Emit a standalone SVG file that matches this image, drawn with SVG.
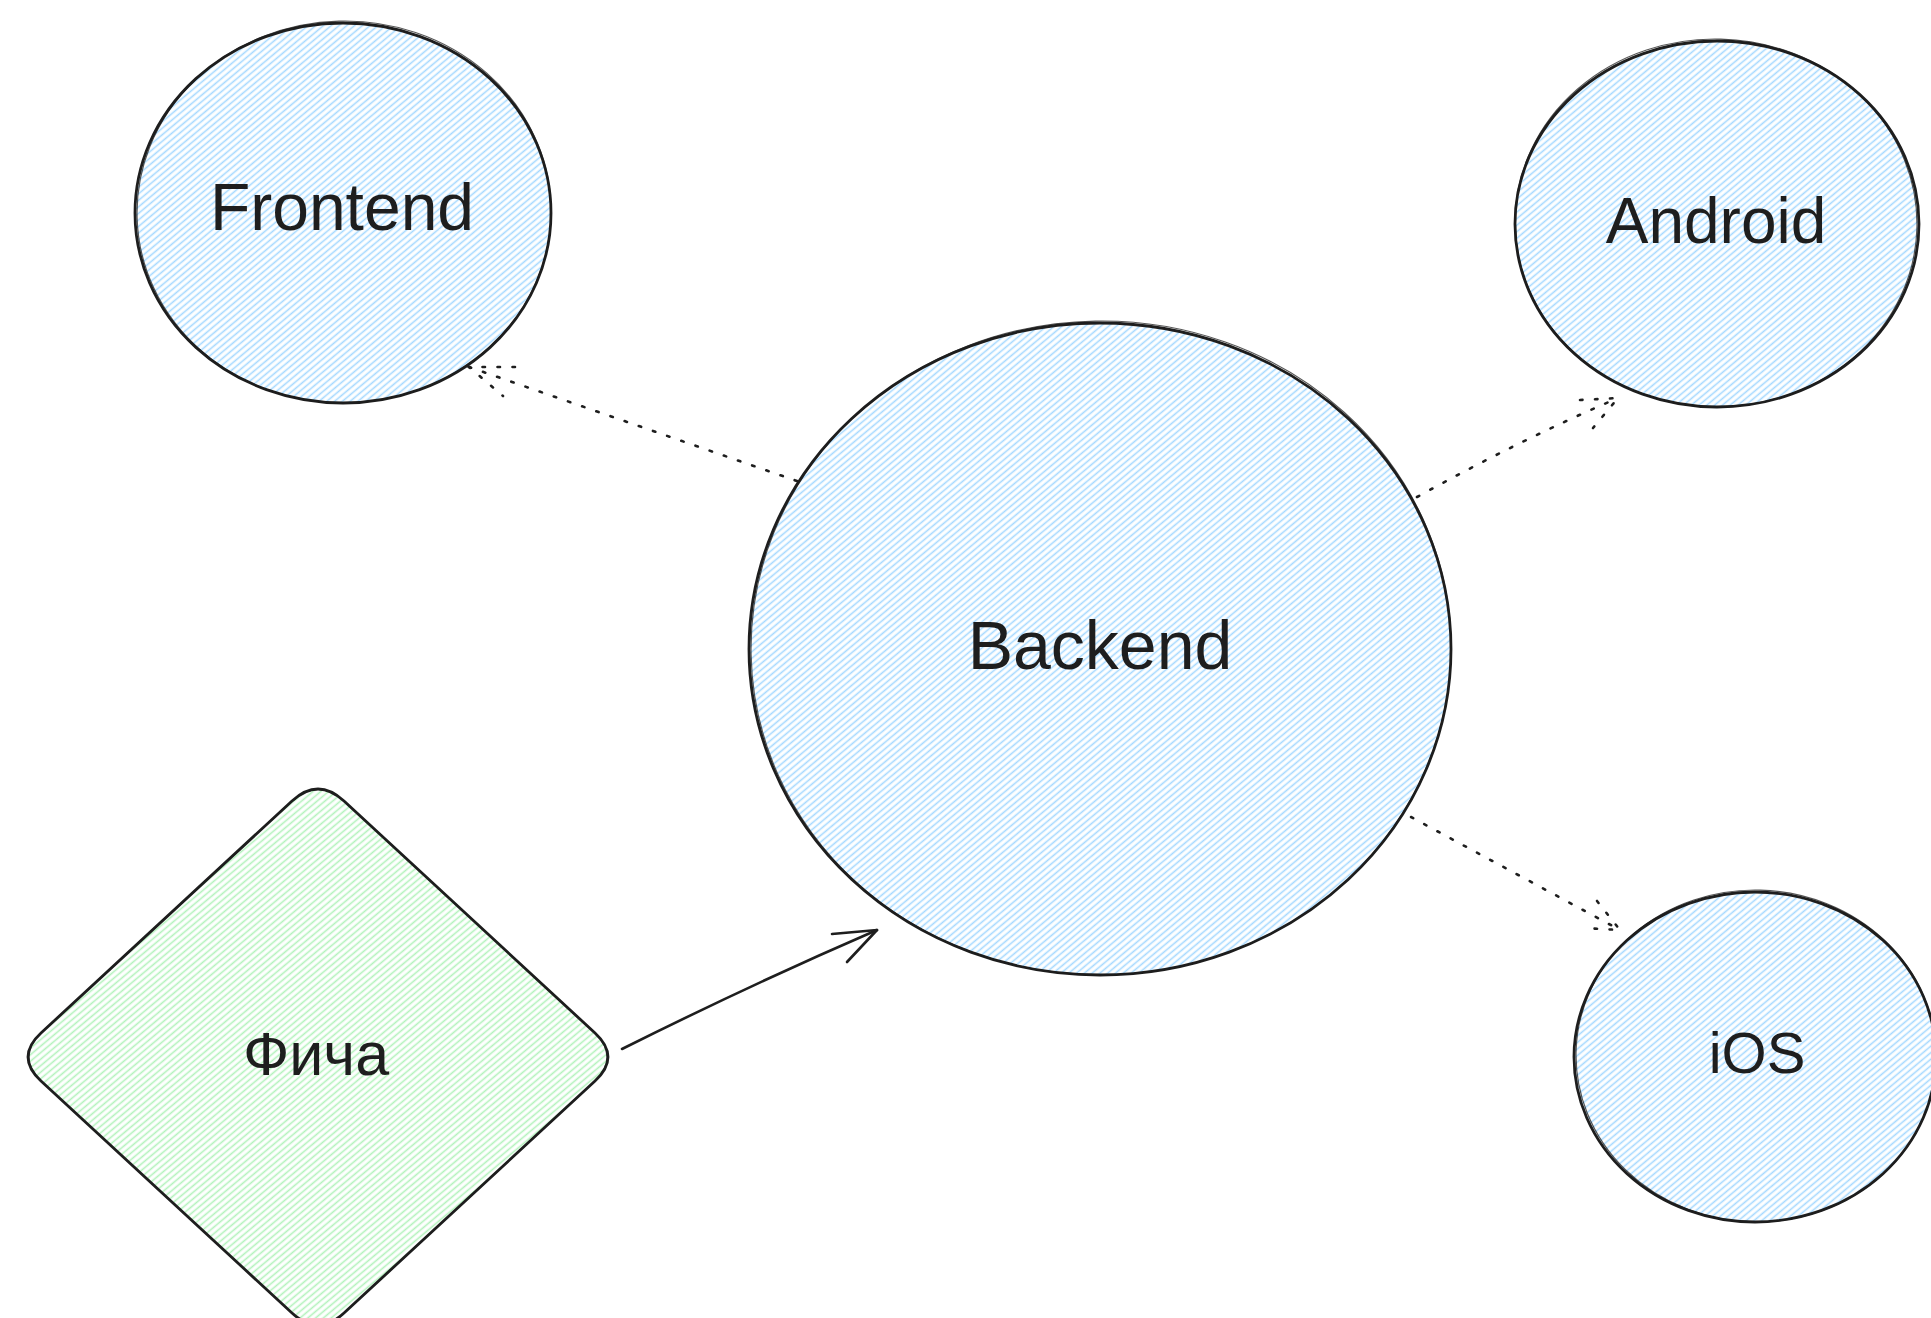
<svg xmlns="http://www.w3.org/2000/svg" width="1931" height="1318" viewBox="0 0 1931 1318">
  <defs>
    <!-- hachure fills -->
    <pattern id="hatch-blue" patternUnits="userSpaceOnUse" width="5" height="10" patternTransform="rotate(50)">
      <line x1="2.5" y1="0" x2="2.5" y2="10" stroke="#a5d8ff" stroke-width="1.6"/>
    </pattern>
    <pattern id="hatch-green" patternUnits="userSpaceOnUse" width="5" height="10" patternTransform="rotate(50)">
      <line x1="2.5" y1="0" x2="2.5" y2="10" stroke="#b2f2bb" stroke-width="1.6"/>
    </pattern>
  </defs>
  <style>
    .blue { fill: url(#hatch-blue); }
    .green { fill: url(#hatch-green); }
    .outline { fill: none; stroke: #1e1e1e; stroke-width: 2.8; stroke-linecap: round; stroke-linejoin: round; }
    .outline2 { fill: none; stroke: #1e1e1e; stroke-width: 1.2; opacity: 0.75; }
    .label { font-family: "Liberation Sans", Arial, sans-serif; fill: #1e1e1e; text-anchor: middle; }
    .dotted { fill: none; stroke: #1e1e1e; stroke-width: 2.6; stroke-dasharray: 2.5 12.5; stroke-linecap: round; }
    .solid { fill: none; stroke: #1e1e1e; stroke-width: 2.6; stroke-linecap: round; stroke-linejoin: round; }
  </style>
  <rect width="1931" height="1318" fill="#ffffff"/>

  <!-- connectors -->
  <g id="connectors">
    <!-- Backend to Frontend -->
    <path class="dotted" d="M797 481 L469 367"/>
    <path class="dotted" d="M515 367 L469 367 L503 396"/>
    <!-- Backend to Android -->
    <path class="dotted" d="M1417 497 Q1520 440 1618 398"/>
    <path class="dotted" d="M1580 400 L1618 398 L1593 428"/>
    <!-- Backend to iOS -->
    <path class="dotted" d="M1411 817 L1620 930"/>
    <path class="dotted" d="M1597 901 L1620 930 L1583 928"/>
    <!-- Фича to Backend -->
    <path class="solid" d="M622 1049 Q750 985 877 930"/>
    <path class="solid" d="M832 934 L877 930 L847 962"/>
  </g>

  <!-- Frontend -->
  <g id="frontend">
    <ellipse class="blue" cx="343" cy="213" rx="208" ry="190"/>
    <ellipse class="outline" cx="343" cy="213" rx="208" ry="190"/>
    <ellipse class="outline2" cx="344" cy="212" rx="207" ry="191" transform="rotate(-1.5 344 212)"/>
    <text class="label" x="342" y="230" font-size="66">Frontend</text>
  </g>

  <!-- Android -->
  <g id="android">
    <ellipse class="blue" cx="1717" cy="224" rx="202" ry="183"/>
    <ellipse class="outline" cx="1717" cy="224" rx="202" ry="183"/>
    <ellipse class="outline2" cx="1716" cy="223" rx="201" ry="184" transform="rotate(1.5 1716 223)"/>
    <text class="label" x="1716" y="243" font-size="64">Android</text>
  </g>

  <!-- Backend -->
  <g id="backend">
    <ellipse class="blue" cx="1100" cy="649" rx="351" ry="326"/>
    <ellipse class="outline" cx="1100" cy="649" rx="351" ry="326"/>
    <ellipse class="outline2" cx="1101" cy="648" rx="350" ry="327" transform="rotate(-1 1101 648)"/>
    <text class="label" x="1100" y="669" font-size="68">Backend</text>
  </g>

  <!-- iOS -->
  <g id="ios">
    <ellipse class="blue" cx="1755" cy="1057" rx="181" ry="165"/>
    <ellipse class="outline" cx="1755" cy="1057" rx="181" ry="165"/>
    <ellipse class="outline2" cx="1756" cy="1056" rx="180" ry="166" transform="rotate(1.5 1756 1056)"/>
    <text class="label" x="1757" y="1073" font-size="58">iOS</text>
  </g>

  <!-- Фича -->
  <g id="feature">
    <path class="green" d="M292 801 Q318 777 344 801 L595 1033 Q621 1057 595 1081 L344 1313 Q318 1337 292 1313 L41 1081 Q15 1057 41 1033 Z"/>
    <path class="outline" d="M292 801 Q318 777 344 801 L595 1033 Q621 1057 595 1081 L344 1313 Q318 1337 292 1313 L41 1081 Q15 1057 41 1033 Z"/>
    <path class="outline2" d="M294 800 Q319 778 345 802 L596 1034 Q619 1058 594 1082 L343 1314 M40 1080 Q17 1056 42 1032 L291 802"/>
    <text class="label" x="316" y="1075" font-size="61">Фича</text>
  </g>
</svg>
